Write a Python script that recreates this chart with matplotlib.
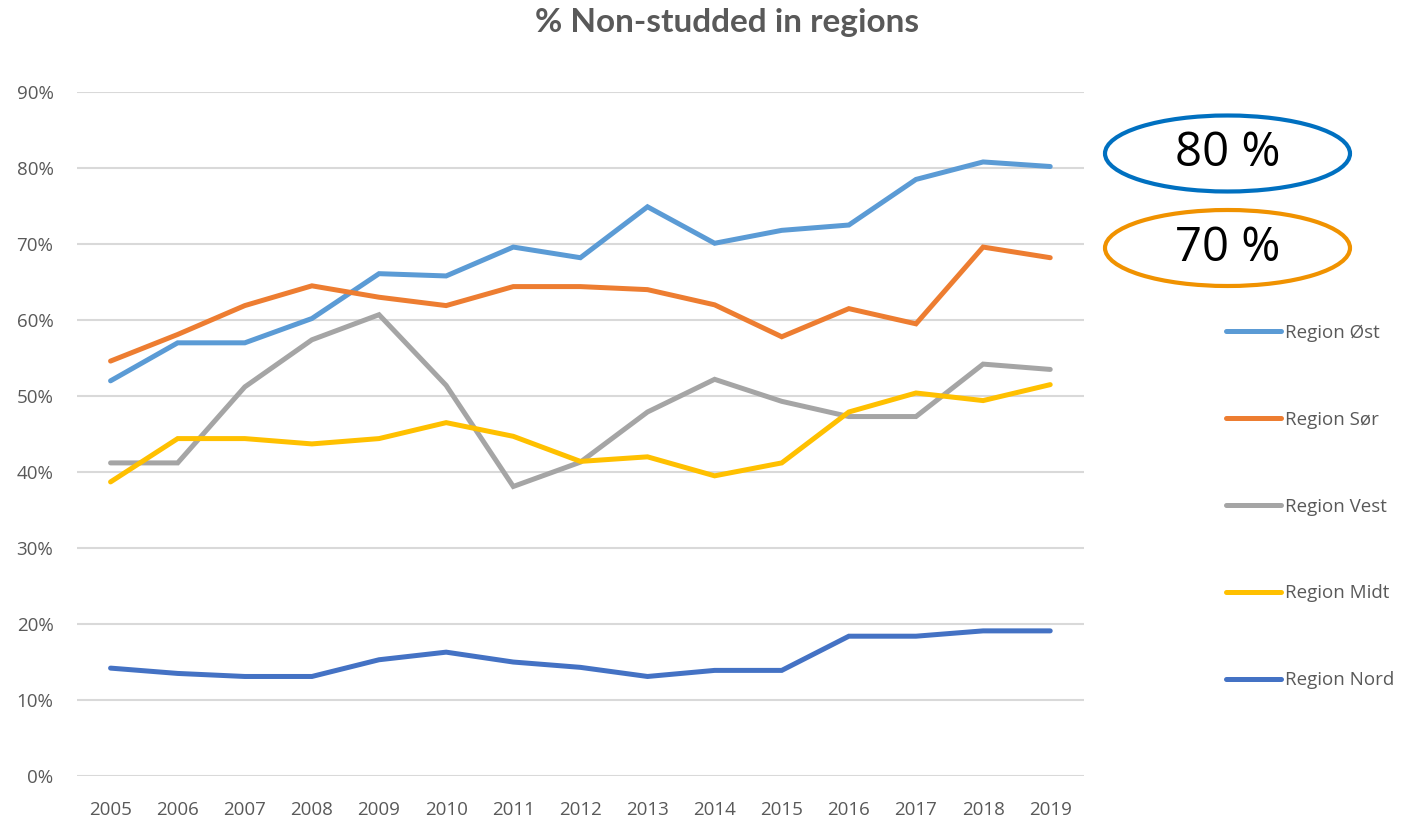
import matplotlib
matplotlib.use("Agg")
import matplotlib.pyplot as plt
from matplotlib.patches import Ellipse
from matplotlib.ticker import PercentFormatter

years = list(range(2005, 2020))
ost = [52.0, 57.0, 57.0, 60.2, 66.1, 65.8, 69.6, 68.2, 74.9, 70.1, 71.8, 72.5, 78.5, 80.8, 80.2]
sor = [54.6, 58.1, 61.9, 64.5, 63.0, 61.9, 64.4, 64.4, 64.0, 62.0, 57.8, 61.5, 59.5, 69.6, 68.2]
vest = [41.2, 41.2, 51.2, 57.4, 60.7, 51.4, 38.1, 41.3, 47.9, 52.2, 49.3, 47.3, 47.3, 54.2, 53.5]
midt = [38.7, 44.4, 44.4, 43.7, 44.4, 46.5, 44.7, 41.4, 42.0, 39.5, 41.2, 47.9, 50.4, 49.4, 51.5]
nord = [14.2, 13.5, 13.1, 13.1, 15.3, 16.3, 15.0, 14.3, 13.1, 13.9, 13.9, 18.4, 18.4, 19.1, 19.1]

series = [
    ("Region Øst", ost, "#5B9BD5"),
    ("Region Sør", sor, "#ED7D31"),
    ("Region Vest", vest, "#A5A5A5"),
    ("Region Midt", midt, "#FFC000"),
    ("Region Nord", nord, "#4472C4"),
]

plt.rcParams['font.family'] = ['Open Sans', 'DejaVu Sans']
grey = "#595959"

fig = plt.figure(figsize=(14.18, 8.18), dpi=100)
ax = fig.add_axes([0.0543, 0.0513, 0.710, 0.8362])

x = list(range(len(years)))
for name, vals, col in series:
    ax.plot(x, [v / 100 for v in vals], color=col, lw=3.6, label=name,
            solid_capstyle='round', solid_joinstyle='miter')

ax.set_xlim(-0.5, len(years) - 0.5)
ax.set_ylim(0, 0.9)
ax.set_yticks([i / 10 for i in range(10)])
ax.yaxis.set_major_formatter(PercentFormatter(1.0, decimals=0))
ax.set_xticks(x)
ax.set_xticklabels([str(y) for y in years])
ax.grid(axis='y', color="#D9D9D9", lw=1.5)
ax.set_axisbelow(True)
for s in ax.spines.values():
    s.set_visible(False)
ax.tick_params(axis='both', length=0, labelsize=13.5, labelcolor=grey)
ax.tick_params(axis='y', pad=17)
ax.tick_params(axis='x', pad=18)

fig.text(0.513, 0.972, "% Non-studded in regions", ha='center', va='center',
         fontsize=24, fontweight='bold', color=grey, family=['Lato', 'DejaVu Sans'])

ax.legend(loc='upper left', bbox_to_anchor=(1226 / 1418, 1 - 324 / 818),
          bbox_transform=fig.transFigure, frameon=False, fontsize=13.5,
          labelcolor=grey, handlelength=2.95, handletextpad=0.2,
          labelspacing=3.67, borderpad=0, borderaxespad=0)

# highlighted values
for cy, col, txt in [(153.5, "#0070C0", "80 %"), (248, "#F09200", "70 %")]:
    fig.patches.append(Ellipse((1227.5 / 1418, 1 - cy / 818), 245 / 1418, 76 / 818,
                               transform=fig.transFigure, fill=False,
                               edgecolor=col, lw=3))
    fig.text(1227.5 / 1418, 1 - cy / 818, txt, ha='center', va='center',
             fontsize=34, color='black')

fig.savefig("out.png", dpi=100)
